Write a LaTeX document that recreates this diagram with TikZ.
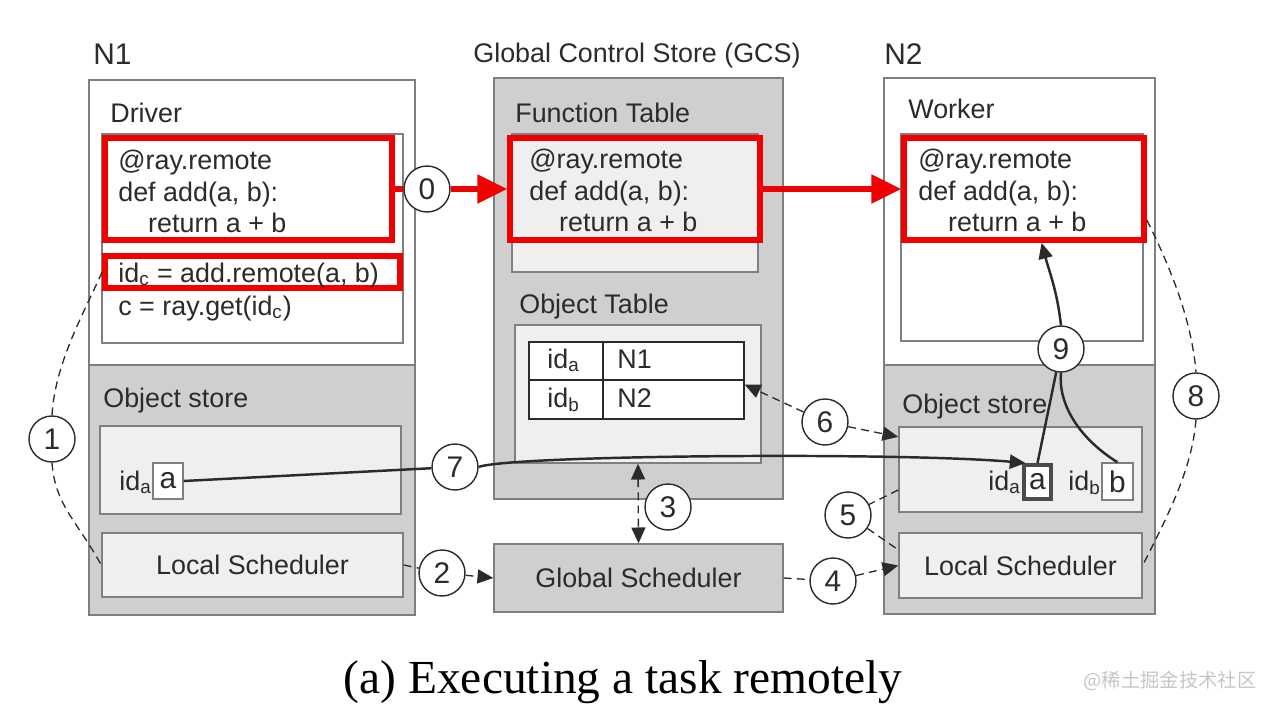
\documentclass[tikz,border=0pt]{standalone}
\usepackage{fontspec}
\setmainfont{Liberation Sans}
\newfontfamily\capfont{Liberation Serif}
\newfontfamily\cjkfont{Noto Sans CJK SC}
\usetikzlibrary{arrows.meta,fit,positioning}
\definecolor{framegray}{HTML}{7F7F7F}
\definecolor{shade}{HTML}{CFCFCF}
\definecolor{pale}{HTML}{EFEFEF}
\definecolor{rayred}{HTML}{F00000}
\definecolor{ink}{HTML}{2B2B2B}
\tikzset{
  every node/.style={
    font=\fontsize{15.3}{17.9}\selectfont,
    text=ink,
    inner sep=0pt
  },
  bigfont/.style={
    font=\fontsize{17}{20}\selectfont
  },
  panel/.style={
    draw=framegray,
    line width=0.8pt,
    fill=white,
    inner sep=0pt
  },
  graypanel/.style={
    panel,
    fill=shade
  },
  palebox/.style={
    panel,
    fill=pale
  },
  cell/.style={
    draw=ink,
    line width=0.8pt,
    fill=white,
    inner sep=0pt
  },
  objbox/.style={
    draw=framegray,
    line width=0.8pt,
    fill=white,
    inner sep=0pt
  },
  redframe/.style={
    draw=rayred,
    line width=3.2pt,
    inner sep=0pt
  },
  code/.style={
    align=left,
    inner sep=0pt,
    anchor=north west
  },
  num/.style={
    shape=circle,
    draw=ink,
    line width=0.8pt,
    fill=white,
    minimum size=0.92cm,
    inner sep=0pt,
    font=\fontsize{17}{20}\selectfont
  },
  dlink/.style={
    draw=ink,
    line width=0.75pt,
    dash pattern=on 4.5pt off 3pt
  },
  slink/.style={
    draw=ink,
    line width=1.4pt
  },
  tohead/.style={-{Triangle[length=9pt,width=8pt]}},
  bothhead/.style={{Triangle[length=9pt,width=8pt]}-{Triangle[length=9pt,width=8pt]}},
  redline/.style={
    draw=rayred,
    line width=3pt
  },
  redhead/.style={-{Triangle[length=17pt,width=16pt]}}
}

\begin{document}
\begin{tikzpicture}[x=0.02cm,y=-0.02cm]
  \useasboundingbox (0,0) rectangle (1269,710);

  % node N1
  \node [panel, fit={(89,80) (415,615)}] (n1) {};
  \node [graypanel, fit={(89,365) (415,615)}] (n1low) {};
  \node [bigfont, anchor=base west] at (93,64) (n1lbl) {N1};
  \node [anchor=base west] at (110,122) (drvlbl) {Driver};
  \node [panel, fit={(102,134) (403,343)}] (drv) {};
  \node [redframe, fit={(105,138) (392,240)}] (drvfn) {};
  \node [code] at (118,150) (drvcode) {
    @ray.remote\\def add(a, b):\\\hspace*{17pt}return a + b
  };
  \node [redframe, fit={(105,256) (400,288)}] (callbox) {};
  \node [anchor=base west] at (118,282) (callln) {id\textsubscript{c} = add.remote(a, b)};
  \node [anchor=base west] at (118,315) (getln) {c = ray.get(id\textsubscript{c})};
  \node [anchor=base west] at (103,407) (os1lbl) {Object store};
  \node [palebox, fit={(100,426) (401,514)}] (os1) {};
  \node [anchor=base west] at (119,490) (ida1) {id\textsubscript{a}};
  \node [objbox, fit={(153,463) (183,499)}] (a1) {};
  \node [bigfont] at (a1.center) (a1txt) {a};
  \node [palebox, fit={(102,533) (403,597)}] (ls1) {};
  \node at (ls1.center) (ls1txt) {Local Scheduler};

  % global control store
  \node [anchor=base] at (637,62) (gcslbl) {Global Control Store (GCS)};
  \node [graypanel, fit={(494,78) (783,499)}] (gcs) {};
  \node [anchor=base west] at (515,122) (ftlbl) {Function Table};
  \node [palebox, fit={(512,134) (758,272)}] (ft) {};
  \node [redframe, fill=pale, fit={(510,138) (760,240)}] (gcsfn) {};
  \node [code] at (529,149) (gcscode) {
    @ray.remote\\def add(a, b):\\\hspace*{17pt}return a + b
  };
  \node [anchor=base west] at (519,313) (otlbl) {Object Table};
  \node [palebox, fit={(515,325) (761,463)}] (ot) {};
  \node [cell, fit={(529,342) (603,380)}] (ka) {};
  \node [cell, fit={(603,342) (744,380)}] (va) {};
  \node [cell, fit={(529,380) (603,419)}] (kb) {};
  \node [cell, fit={(603,380) (744,419)}] (vb) {};
  \node [anchor=base west] at (547,368) (kalbl) {id\textsubscript{a}};
  \node [anchor=base west] at (617,368) (valbl) {N1};
  \node [anchor=base west] at (547,407) (kblbl) {id\textsubscript{b}};
  \node [anchor=base west] at (617,407) (vblbl) {N2};
  \node [graypanel, fit={(494,544) (783,612)}] (gsch) {};
  \node at (gsch.center) (gschtxt) {Global Scheduler};

  % node N2
  \node [panel, fit={(884,78) (1155,614)}] (n2) {};
  \node [graypanel, fit={(884,365) (1155,614)}] (n2low) {};
  \node [bigfont, anchor=base west] at (884,64) (n2lbl) {N2};
  \node [anchor=base west] at (908,118) (wrklbl) {Worker};
  \node [panel, fit={(901,134) (1143,341)}] (wrk) {};
  \node [redframe, fit={(904,138) (1144,240)}] (wrkfn) {};
  \node [code] at (918,149) (wrkcode) {
    @ray.remote\\def add(a, b):\\\hspace*{17pt}return a + b
  };
  \node [anchor=base west] at (902,413) (os2lbl) {Object store};
  \node [palebox, fit={(899,427) (1142,512)}] (os2) {};
  \node [anchor=base west] at (988,490) (ida2) {id\textsubscript{a}};
  \node [objbox, draw=ink!85, line width=2.2pt, fit={(1024,465) (1051,499)}] (a2) {};
  \node [bigfont] at (a2.center) (a2txt) {a};
  \node [anchor=base west] at (1068,490) (idb2) {id\textsubscript{b}};
  \node [objbox, fit={(1102,463) (1133,500)}] (b2) {};
  \node [bigfont] at (b2.center) (b2txt) {b};
  \node [palebox, fit={(899,533) (1142,598)}] (ls2) {};
  \node at (ls2.center) (ls2txt) {Local Scheduler};

  % step numbers
  \node [num] at (427,189) (c0) {0};
  \node [num] at (52,439) (c1) {1};
  \node [num] at (442,573) (c2) {2};
  \node [num] at (668,507) (c3) {3};
  \node [num] at (833,581) (c4) {4};
  \node [num] at (848,515) (c5) {5};
  \node [num] at (825,422) (c6) {6};
  \node [num] at (455,467) (c7) {7};
  \node [num] at (1196,396) (c8) {8};
  \node [num] at (1061,349) (c9) {9};

  % function shipping
  \draw [redline] (drvfn.east) -- (c0);
  \draw [redline, redhead] (c0) -- (gcsfn.west);
  \draw [redline, redhead] (gcsfn.east) -- (wrkfn.west);

  % control messages
  \draw [dlink] (callbox.west) .. controls +(-22,48) and +(3,-50) .. (c1.north);
  \draw [dlink] (c1.south) .. controls +(3,42) and +(-25,-45) .. (ls1.west);
  \draw [dlink] (ls1.east) -- (c2);
  \draw [dlink, tohead] (c2) -- (gsch.west);
  \draw [dlink, bothhead] (ot.south) -- (gsch.north);
  \draw [dlink] (gsch.east) -- (c4);
  \draw [dlink, tohead] (c4) -- (ls2.west);
  \draw [dlink] ([yshift=13pt]os2.south west) -- (c5);
  \draw [dlink] (c5) -- ([yshift=-10pt]ls2.north west);
  \draw [dlink, tohead] (c6) -- ([yshift=-3pt]vb.north east);
  \draw [dlink, tohead] (c6) -- ([yshift=-6pt]os2.north west);
  \draw [dlink] ([yshift=13pt]wrkfn.south east) .. controls +(25,50) and +(-4,-50) .. (c8.north);
  \draw [dlink] (c8.south) .. controls +(-4,50) and +(25,-50) .. (ls2.east);

  % data transfer
  \draw [slink] (a1.east) -- (c7);
  \draw [slink, tohead] (c7.east) .. controls (510,455) and (900,452) .. ([xshift=2pt]a2.north west);
  \draw [slink] (a2.north) -- (c9);
  \draw [slink] (b2.north) .. controls +(-40,-25) and +(-3,30) .. (c9.south);
  \draw [slink, tohead] (c9.north) .. controls +(-4,-35) and +(8,30) .. ([xshift=10pt]wrkfn.south);

  % caption
  \node [font=\capfont\fontsize{27}{30}\selectfont, text=black, anchor=base] at (623,693) (caption) {(a) Executing a task remotely};
  \node [font=\cjkfont\fontsize{11}{13}\selectfont, text=gray!45, anchor=base] at (1170,687) (mark) {@稀土掘金技术社区};
\end{tikzpicture}
\end{document}
